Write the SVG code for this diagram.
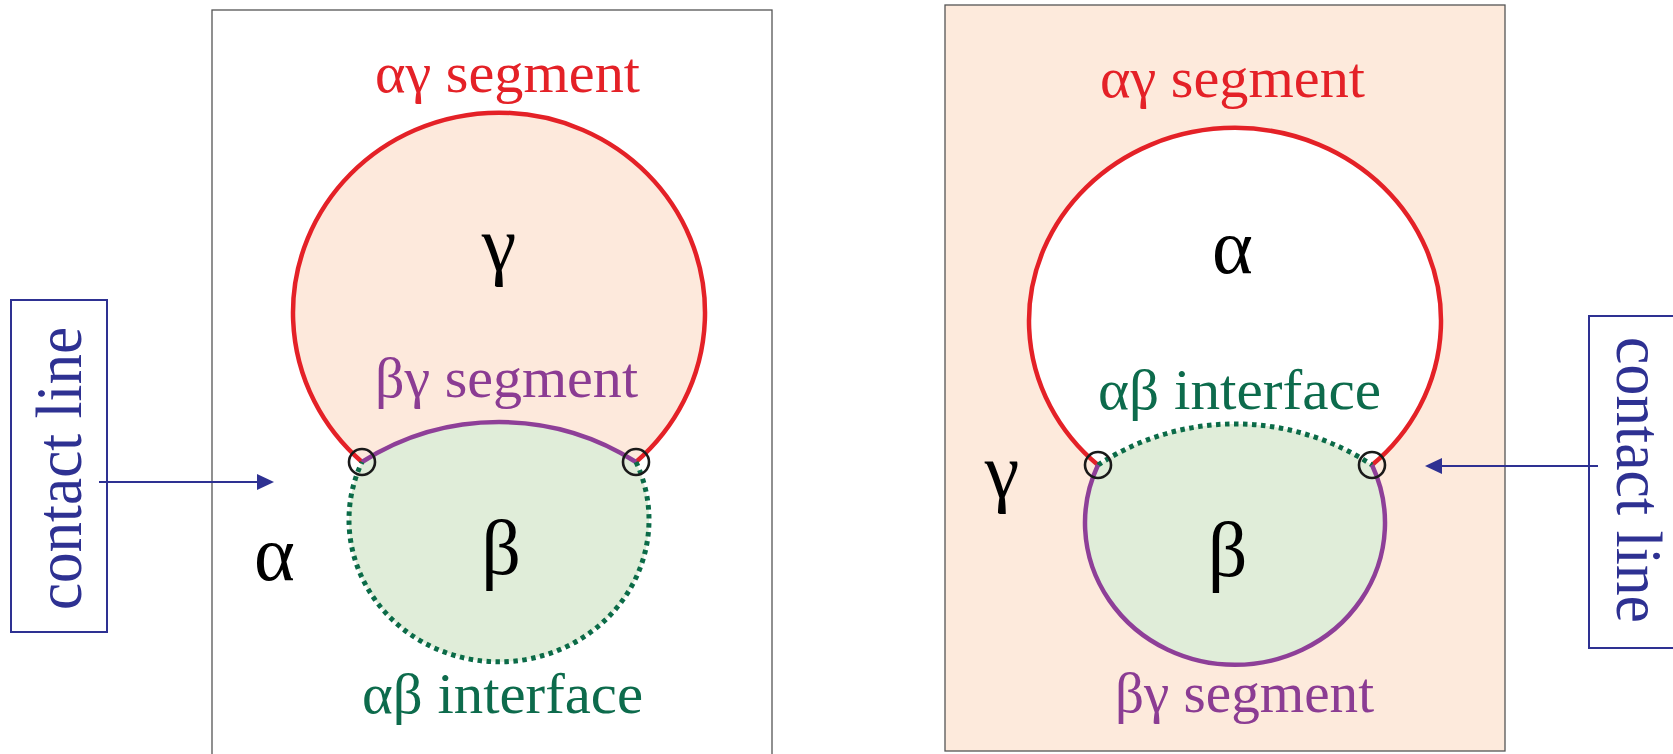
<svg xmlns="http://www.w3.org/2000/svg" width="1673" height="754" viewBox="0 0 1673 754">
<style>
  .lbl { font-family: 'Liberation Serif', serif; font-size: 56px; text-anchor: middle; }
  .phase { font-family: 'Liberation Serif', serif; font-size: 78px; text-anchor: middle; fill: #000; }
  .red { fill: #E42127; }
  .pur { fill: #8B3C93; }
  .grn { fill: #0D6B4C; }
  .blue { font-family: 'Liberation Serif', serif; fill: #2E3192; font-size: 66px; text-anchor: middle; }
  .panel { stroke: #555; stroke-width: 1.3; }
  .redL { fill: none; stroke: #E42127; stroke-width: 4.5; }
  .purL { fill: none; stroke: #8E3F98; stroke-width: 4.5; }
  .dotL { fill: none; stroke: #0B6B48; stroke-width: 5; stroke-dasharray: 4.5 4.5; }
  .jct { fill: none; stroke: #1a1a1a; stroke-width: 2.6; }
  .box { fill: none; stroke: #2E3192; stroke-width: 2; }
  .arr { stroke: #2E3192; stroke-width: 1.8; fill: none; }
  .ah { fill: #2E3192; }
</style>

<g id="panel-left" font-family="Liberation Serif, serif">
  <rect class="panel" x="212" y="10" width="560" height="760" fill="#FFFFFF"/>
  <path d="M362,462 A206,200 0 1,1 636,462 A255,255 0 0,0 362,462 Z" fill="#FDE9DC"/>
  <path d="M362,462 A255,255 0 0,1 636,462 A150,142 0 1,1 362,462 Z" fill="#E0EDD9"/>
  <path class="redL" d="M362,462 A206,200 0 1,1 636,462"/>
  <path class="purL" d="M362,462 A255,255 0 0,1 636,462"/>
  <path class="dotL" d="M636,462 A150,142 0 1,1 362,462"/>
  <circle class="jct" cx="362" cy="462" r="13"/>
  <circle class="jct" cx="636" cy="462" r="13"/>
  <text class="lbl red" font-family="Liberation Serif, serif" x="507.5" y="92" textLength="265" lengthAdjust="spacingAndGlyphs">αγ segment</text>
  <text class="phase" font-family="Liberation Serif, serif" x="499" y="270">γ</text>
  <text class="lbl pur" font-family="Liberation Serif, serif" x="506.5" y="397" textLength="263" lengthAdjust="spacingAndGlyphs">βγ segment</text>
  <text class="phase" font-family="Liberation Serif, serif" x="274.5" y="580">α</text>
  <text class="phase" font-family="Liberation Serif, serif" x="501" y="574">β</text>
  <text class="lbl grn" font-family="Liberation Serif, serif" x="502.5" y="713" textLength="281" lengthAdjust="spacingAndGlyphs">αβ interface</text>
</g>

<g id="panel-right" font-family="Liberation Serif, serif">
  <rect class="panel" x="945" y="5" width="560" height="746" fill="#FDEADC"/>
  <path d="M1098,465 A206,193 0 1,1 1372,465 A249,249 0 0,0 1098,465 Z" fill="#FFFFFF"/>
  <path d="M1098,465 A249,249 0 0,1 1372,465 A150,142 0 1,1 1098,465 Z" fill="#E0EDD9"/>
  <path class="redL" d="M1098,465 A206,193 0 1,1 1372,465"/>
  <path class="dotL" d="M1098,465 A249,249 0 0,1 1372,465"/>
  <path class="purL" d="M1372,465 A150,142 0 1,1 1098,465"/>
  <circle class="jct" cx="1098" cy="465" r="13"/>
  <circle class="jct" cx="1372" cy="465" r="13"/>
  <text class="lbl red" font-family="Liberation Serif, serif" x="1232.5" y="97" textLength="265" lengthAdjust="spacingAndGlyphs">αγ segment</text>
  <text class="phase" font-family="Liberation Serif, serif" x="1232.5" y="273">α</text>
  <text class="lbl grn" font-family="Liberation Serif, serif" x="1239.5" y="409" textLength="283" lengthAdjust="spacingAndGlyphs">αβ interface</text>
  <text class="phase" font-family="Liberation Serif, serif" x="1002" y="497">γ</text>
  <text class="phase" font-family="Liberation Serif, serif" x="1227.5" y="576">β</text>
  <text class="lbl pur" font-family="Liberation Serif, serif" x="1244.5" y="712" textLength="259" lengthAdjust="spacingAndGlyphs">βγ segment</text>
</g>

<g id="label-left">
  <rect class="box" x="11" y="300" width="96" height="332"/>
  <text class="blue" font-family="Liberation Serif, serif" transform="translate(81,468.5) rotate(-90)" x="0" y="0" textLength="283" lengthAdjust="spacingAndGlyphs">contact line</text>
</g>

<g id="label-right">
  <rect class="box" x="1589" y="316" width="100" height="332"/>
  <text class="blue" font-family="Liberation Serif, serif" transform="translate(1617,480) rotate(90)" x="0" y="0" textLength="286" lengthAdjust="spacingAndGlyphs">contact line</text>
</g>

<g id="connectors">
  <line class="arr" x1="99" y1="482" x2="260" y2="482"/>
  <polygon class="ah" points="274,482 257,474 257,490"/>
  <line class="arr" x1="1598" y1="466" x2="1440" y2="466"/>
  <polygon class="ah" points="1425,466 1442,458 1442,474"/>
</g>
</svg>
